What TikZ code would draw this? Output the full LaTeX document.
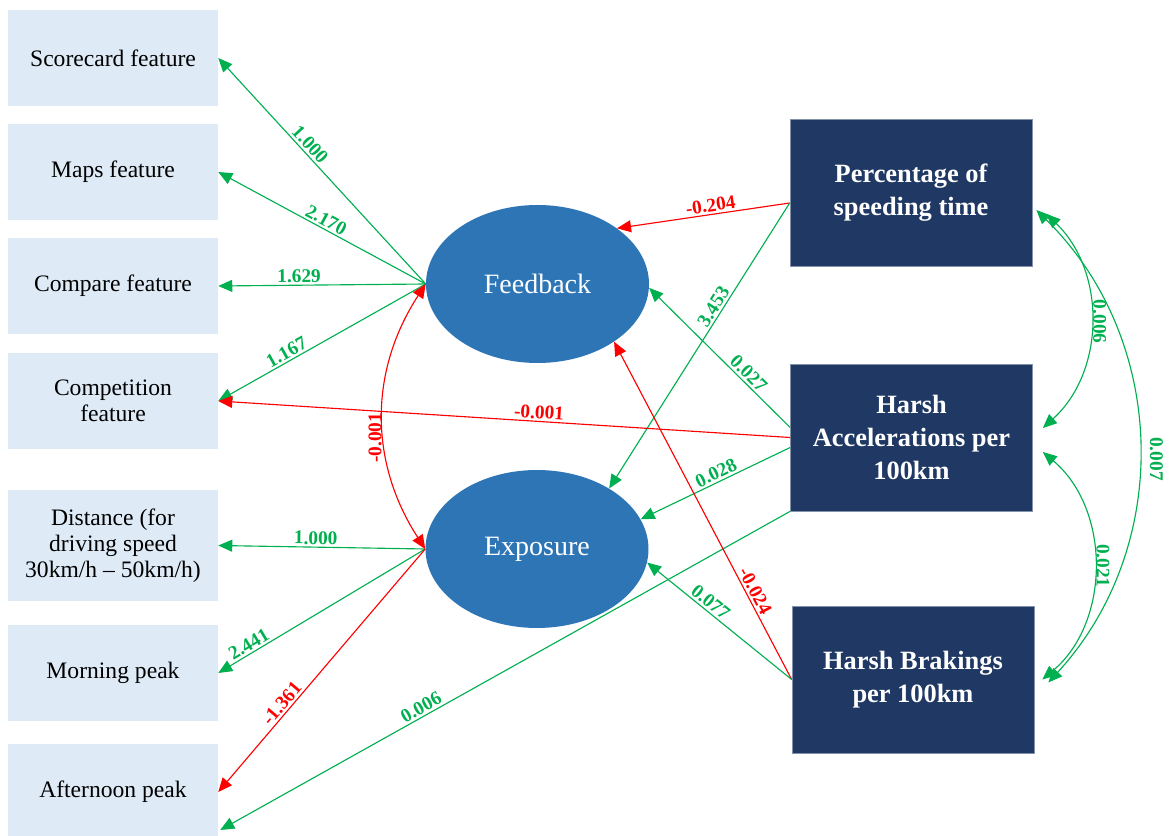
\documentclass[tikz,border=0pt]{standalone}
\usepackage{fontspec}
\setmainfont{Liberation Serif}
\usetikzlibrary{arrows.meta,shapes.geometric,calc}

\definecolor{boxblue}{HTML}{DEEBF7}
\definecolor{navy}{HTML}{203864}
\definecolor{latent}{HTML}{2E75B6}
\definecolor{posgreen}{HTML}{00B050}
\definecolor{negred}{HTML}{FF0000}

\tikzset{
	obs/.style={fill=boxblue, minimum width=157.5pt, minimum height=72pt, inner sep=0pt,
		align=center, font=\fontsize{17.7}{19.5}\selectfont},
	pred/.style={fill=navy, draw=navy!55!white, line width=0.5pt, text=white,
		minimum width=181.5pt, minimum height=110.25pt, align=center,
		font=\bfseries\fontsize{19.8}{24.7}\selectfont},
	lat/.style={ellipse, fill=latent, text=white, minimum width=167.25pt,
		minimum height=118.5pt, inner sep=0pt, font=\fontsize{21}{25}\selectfont},
	gline/.style={posgreen, line width=0.85pt, ->},
	rline/.style={negred, line width=0.85pt, ->},
	coef/.style={font=\bfseries\fontsize{14.5}{16}\selectfont, inner sep=1.5pt}
}

\begin{document}
\begin{tikzpicture}[x=0.75pt, y=0.75pt, >={Triangle[length=10.5pt,width=9pt]}]
	\useasboundingbox (0,0) rectangle (1172,836);

	\node[obs] (sc) at (113,778) {Scorecard feature};
	\node[obs] (mp) at (113,664) {Maps feature};
	\node[obs] (cp) at (113,550) {Compare feature};
	\node[obs] (ct) at (113,435) {Competition\\feature};
	\node[obs, minimum height=83.25pt] (ds) at (113,290.5) {Distance (for\\driving speed\\30km/h -- 50km/h)};
	\node[obs] (mn) at (113,163) {Morning peak};
	\node[obs] (af) at (113,44) {Afternoon peak};

	\node[lat] (fb) at (537.5,552) {Feedback};
	\node[lat] (ex) at (537,287) {Exposure};

	\node[pred] (pst) at (911,643) {Percentage of\\speeding time};
	\node[pred] (ha) at (911.5,398.5) {Harsh\\Accelerations per\\100km};
	\node[pred] (hb) at (913,156.5) {Harsh Brakings\\per 100km};

	% loadings
	\draw[gline] (fb.west) -- node[coef, sloped, above, pos=0.59] (l-sc) {1.000} (sc.east);
	\draw[gline] (fb.west) -- node[coef, sloped, above, pos=0.50] (l-mp) {2.170} (mp.east);
	\draw[gline] (fb.west) -- node[coef, sloped, above, pos=0.61] (l-cp) {1.629} (cp.east);
	\draw[gline] (fb.west) -- node[coef, sloped, above, pos=0.65] (l-ct) {1.167} (ct.east);
	\draw[gline] (ex.west) -- node[coef, sloped, above, pos=0.53] (l-ds) {1.000} (ds.east);
	\draw[gline] (ex.west) -- node[coef, sloped, above, pos=0.83] (l-mn) {2.441} (mn.east);
	\draw[rline] (ex.west) -- node[coef, sloped, above, pos=0.66] (l-af) {-1.361} (af.east);

	\draw[rline, <->] (ex.west) to[bend left=33] node[coef, pos=0.42, rotate=90, anchor=south] (l-fe) {-0.001} (fb.west);

	% regressions
	\coordinate (pst-out) at ($(pst.west)+(0,-10)$);
	\draw[rline] (pst-out) -- node[coef, sloped, above, pos=0.45] (l-pf) {-0.204} (fb.35);
	\draw[gline] (pst-out) -- node[coef, sloped, above, pos=0.38] (l-pe) {3.453} (ex.40);
	\draw[gline] ($(ha.west)+(0,10)$) -- node[coef, sloped, above, pos=0.34] (l-hf) {0.027} (fb.-2);
	\draw[rline] (ha.west) -- node[coef, sloped, above, pos=0.44] (l-hct) {-0.001} (ct.east);
	\draw[gline] ($(ha.west)+(0,-10)$) -- node[coef, sloped, above, pos=0.47] (l-he) {0.028} (ex.16);
	\draw[gline] (ha.south west) -- node[coef, sloped, above, pos=0.64] (l-haf) {0.006} ($(af.east)+(2,-38)$);
	\draw[rline] (hb.west) -- node[coef, sloped, above, pos=0.25] (l-bf) {-0.024} (fb.-37);
	\draw[gline] (hb.west) -- node[coef, sloped, above, pos=0.60] (l-be) {0.077} (ex.-7);

	% covariances
	\draw[gline, <->] ($(pst.east)+(14,-21)$) to[bend left=47] node[coef, pos=0.5, rotate=-90, anchor=south] (l-ph) {0.006} ($(ha.east)+(10,9.5)$);
	\draw[gline, <->] ($(ha.east)+(10,-14.5)$) to[bend left=50] node[coef, pos=0.5, rotate=-90, anchor=south] (l-hb) {0.021} ($(hb.east)+(8,0)$);
	\draw[gline, <->] ($(pst.east)+(4,-17)$) to[bend left=44] node[coef, pos=0.53, rotate=-90, anchor=south, inner sep=8pt] (l-pb) {0.007} ($(hb.east)+(14,-3)$);
\end{tikzpicture}
\end{document}
